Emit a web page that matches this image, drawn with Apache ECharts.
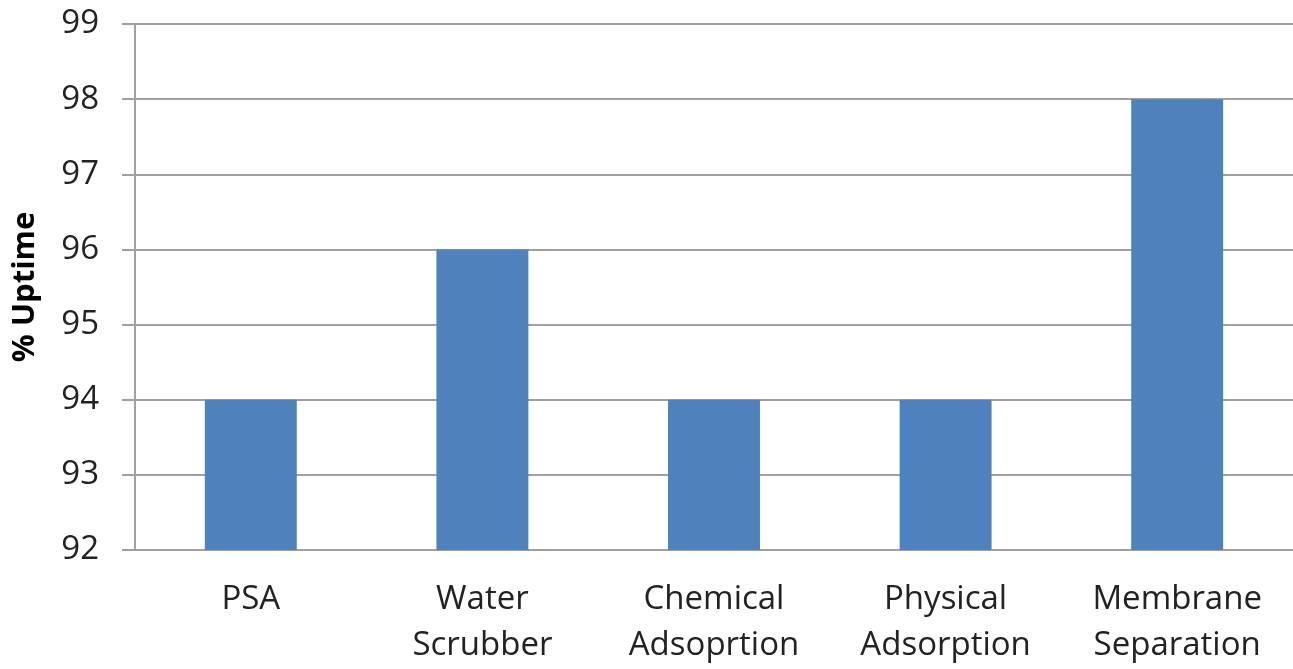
<!DOCTYPE html>
<html>
<head>
<meta charset="utf-8">
<script src="https://cdn.jsdelivr.net/npm/echarts@6/dist/echarts.min.js"></script>
<style>html,body{margin:0;padding:0;background:#fff}#c{width:1293px;height:669px}</style>
</head>
<body>
<div id="c"></div>
<script>
const categories = ['PSA', 'Water\nScrubber', 'Chemical\nAdsoprtion', 'Physical\nAdsorption', 'Membrane\nSeparation'];
const uptime = [94, 96, 94, 94, 98];
const yMin = 92, yMax = 99, yStep = 1;

const chart = echarts.init(document.getElementById('c'), null, {renderer: 'canvas'});
chart.setOption({
  animation: false,
  grid: {left: 135, right: -15, top: 24, bottom: 114, containLabel: false},
  xAxis: {
    type: 'category',
    data: categories,
    axisLine: {show: true, lineStyle: {color: '#a0a0a0', width: 2}},
    axisTick: {show: false},
    axisLabel: {color: '#222', fontFamily: 'Open Sans', fontSize: 33, lineHeight: 46, margin: 27, interval: 0}
  },
  yAxis: {
    type: 'value',
    min: yMin, max: yMax, interval: yStep,
    name: '% Uptime',
    nameLocation: 'middle',
    nameGap: 94,
    nameRotate: 90,
    nameTextStyle: {color: '#000', fontFamily: 'Open Sans', fontWeight: 'bold', fontSize: 31},
    axisLine: {show: true, lineStyle: {color: '#a0a0a0', width: 2}},
    axisTick: {show: true, inside: false, length: 13, lineStyle: {color: '#a0a0a0', width: 2}},
    splitLine: {show: true, lineStyle: {color: '#a0a0a0', width: 2}},
    axisLabel: {color: '#222', fontFamily: 'Open Sans', fontSize: 33, margin: 36}
  },
  series: [{
    type: 'bar',
    data: uptime,
    barWidth: '39.7%',
    itemStyle: {color: '#4f81bd'}
  }]
});
</script>
</body>
</html>
